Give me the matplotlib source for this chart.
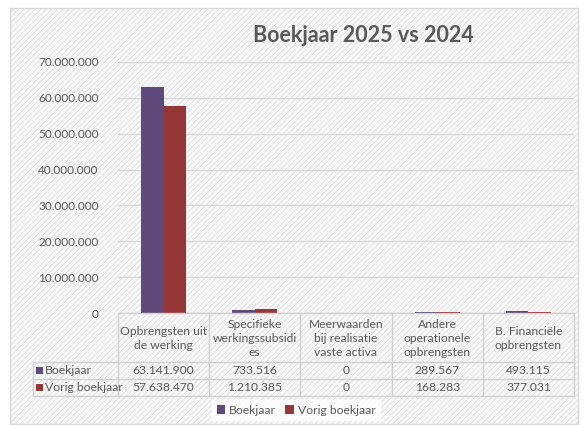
import numpy as np
import matplotlib.pyplot as plt
from matplotlib.patches import Rectangle
from matplotlib.lines import Line2D

plt.rcParams['font.family'] = ['Lato', 'DejaVu Sans']
plt.rcParams['hatch.color'] = '#f0f0f0'
plt.rcParams['hatch.linewidth'] = 0.5

categories = ['Opbrengsten uit\nde werking', 'Specifieke\nwerkingssubsidi\nes',
              'Meerwaarden\nbij realisatie\nvaste activa', 'Andere\noperationele\nopbrengsten',
              'B. Financiële\nopbrengsten']
series_names = ['Boekjaar', 'Vorig boekjaar']
boekjaar = [63141900, 733516, 0, 289567, 493115]
vorig_boekjaar = [57638470, 1210385, 0, 168283, 377031]
colors = ['#604a7b', '#953735']
yticks = np.arange(0, 70000001, 10000000)

W, H = 584, 425
fig = plt.figure(figsize=(W / 100, H / 100), dpi=100)
fig.patch.set_facecolor('white')

def fx(px):
    return px / W

def fy(py):
    return 1 - py / H

# chart area background
fig.patches.append(Rectangle((fx(10), fy(424)), fx(568), 416 / H, transform=fig.transFigure,
                             facecolor='#f8f8f8', edgecolor='#d9d9d9', lw=1, zorder=-10,
                             hatch='//////'))

left, right, top, bottom = 118, 574, 62, 313
ax = fig.add_axes([fx(left), fy(bottom), fx(right - left), (bottom - top) / H])
ax.set_facecolor('none')

x = np.arange(len(categories))
bw = 0.245
ax.bar(x - bw / 2, boekjaar, bw, color=colors[0], label=series_names[0], zorder=3)
ax.bar(x + bw / 2, vorig_boekjaar, bw, color=colors[1], label=series_names[1], zorder=3)
ax.set_xlim(-0.5, len(categories) - 0.5)
ax.set_ylim(0, 70000000)
ax.set_yticks(yticks)
ax.set_yticklabels([f'{v:,}'.replace(',', '.') for v in yticks], color='#595959', fontsize=8.5)
ax.tick_params(axis='y', length=0, pad=14)
ax.set_xticks([])
ax.grid(axis='y', color='#d9d9d9', lw=1, zorder=0)
for s in ax.spines.values():
    s.set_visible(False)

fig.text(fx(363), fy(35), 'Boekjaar 2025 vs 2024', ha='center', va='center',
         fontsize=15.5, fontweight='bold', color='#595959')

# data table below the plot
line_c = '#d0d0d0'
txt_c = '#595959'
row_y = [313, 362, 379, 396]
col_x = [left + (right - left) * i / len(categories) for i in range(len(categories) + 1)]
tab_left = 33

def hline(y, x0, x1):
    fig.lines.append(Line2D([fx(x0), fx(x1)], [fy(y), fy(y)], transform=fig.transFigure,
                            color=line_c, lw=1))

def vline(xp, y0, y1):
    fig.lines.append(Line2D([fx(xp), fx(xp)], [fy(y0), fy(y1)], transform=fig.transFigure,
                            color=line_c, lw=1))

hline(row_y[0], left, right)
for y in row_y[1:]:
    hline(y, tab_left, right)
vline(tab_left, row_y[1], row_y[3])
for xp in col_x:
    vline(xp, row_y[0], row_y[3])

for i, cat in enumerate(categories):
    cx = (col_x[i] + col_x[i + 1]) / 2
    fig.text(fx(cx), fy((row_y[0] + row_y[1]) / 2 + 1), cat, ha='center', va='center',
             fontsize=8.7, color=txt_c, linespacing=1.3)

for r, (name, vals) in enumerate(zip(series_names, [boekjaar, vorig_boekjaar])):
    cy = (row_y[r + 1] + row_y[r + 2]) / 2
    fig.patches.append(Rectangle((fx(tab_left + 3), fy(cy + 3.5)), fx(7), 7 / H,
                                 transform=fig.transFigure, facecolor=colors[r], lw=0))
    fig.text(fx(tab_left + 12), fy(cy), name, ha='left', va='center', fontsize=8.7, color=txt_c)
    for i, v in enumerate(vals):
        cx = (col_x[i] + col_x[i + 1]) / 2
        fig.text(fx(cx), fy(cy), f'{v:,}'.replace(',', '.'), ha='center', va='center',
                 fontsize=8.7, color=txt_c)

leg = fig.legend(loc='center', bbox_to_anchor=(fx(296), fy(410)), ncol=2, frameon=True,
                 fontsize=8.7, handlelength=0.7, handleheight=0.7, handletextpad=0.3,
                 columnspacing=0.8, borderpad=0.4)
leg.get_frame().set_facecolor('white')
leg.get_frame().set_edgecolor('white')
leg.get_frame().set_boxstyle('square', pad=0)
for t in leg.get_texts():
    t.set_color(txt_c)

fig.savefig('out.png', dpi=100)
